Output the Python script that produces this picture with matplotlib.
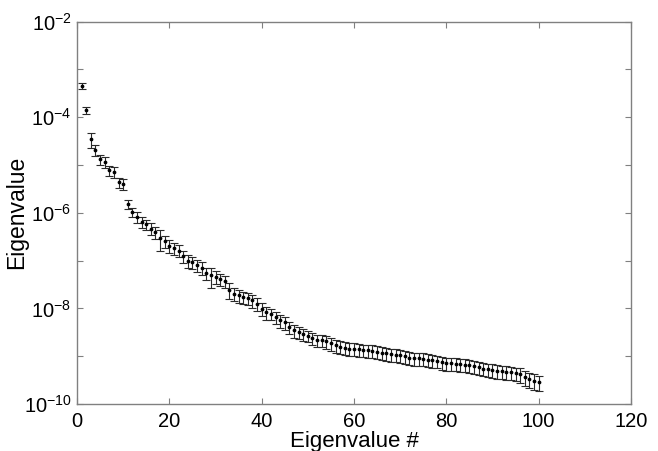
import matplotlib
matplotlib.use('Agg')
from matplotlib import pyplot as plt, ticker
import numpy as np

# Eigenvalue index and log10 of the eigenvalue
index = list(range(1, 101))
log_eig = [
    -3.34, -3.85, -4.46, -4.69, -4.88, -4.94, -5.11, -5.15, -5.36, -5.40,
    -5.82, -5.98, -6.09, -6.19, -6.24, -6.33, -6.41, -6.53, -6.60, -6.69,
    -6.74, -6.79, -6.90, -7.00, -7.04, -7.09, -7.15, -7.26, -7.31, -7.34,
    -7.39, -7.43, -7.61, -7.69, -7.73, -7.76, -7.79, -7.83, -7.90, -8.01,
    -8.08, -8.11, -8.18, -8.25, -8.29, -8.39, -8.46, -8.49, -8.54, -8.57,
    -8.62, -8.66, -8.67, -8.69, -8.73, -8.77, -8.80, -8.82, -8.84, -8.84,
    -8.86, -8.87, -8.88, -8.89, -8.91, -8.93, -8.94, -8.96, -8.97, -8.98,
    -9.00, -9.03, -9.04, -9.04, -9.05, -9.07, -9.09, -9.10, -9.13, -9.15,
    -9.15, -9.16, -9.17, -9.18, -9.19, -9.21, -9.23, -9.26, -9.27, -9.29,
    -9.31, -9.32, -9.33, -9.34, -9.36, -9.38, -9.44, -9.48, -9.51, -9.54,
]
# relative size of the error bars (fraction of the eigenvalue)
rel_err = [
    0.15, 0.18, 0.35, 0.25, 0.25, 0.25, 0.25, 0.25, 0.25, 0.25,
    0.22, 0.22, 0.25, 0.25, 0.25, 0.28, 0.28, 0.45, 0.28, 0.30,
    0.28, 0.28, 0.28, 0.30, 0.28, 0.28, 0.30, 0.30, 0.45, 0.30,
    0.28, 0.28, 0.35, 0.30, 0.30, 0.28, 0.28, 0.30, 0.30, 0.30,
    0.30, 0.28, 0.28, 0.30, 0.30, 0.30, 0.30, 0.28, 0.28, 0.28,
    0.28, 0.28, 0.28, 0.30, 0.30, 0.30, 0.30, 0.30, 0.30, 0.30,
    0.30, 0.30, 0.30, 0.30, 0.30, 0.30, 0.30, 0.30, 0.30, 0.30,
    0.30, 0.30, 0.30, 0.30, 0.30, 0.30, 0.30, 0.30, 0.30, 0.30,
    0.30, 0.30, 0.30, 0.30, 0.30, 0.30, 0.30, 0.30, 0.30, 0.32,
    0.32, 0.32, 0.32, 0.32, 0.32, 0.35, 0.35, 0.35, 0.35, 0.35,
]
y_ticks_exp = [-10, -8, -6, -4, -2]
x_ticks = [0, 20, 40, 60, 80, 100, 120]

plt.rcParams['font.family'] = ['Liberation Sans', 'DejaVu Sans']
plt.rcParams['mathtext.fontset'] = 'custom'
plt.rcParams['mathtext.rm'] = 'Liberation Sans'
plt.rcParams['mathtext.default'] = 'regular'

eig = 10.0 ** np.array(log_eig)
err = eig * np.array(rel_err)

fig = plt.figure(figsize=(6.58, 4.51), dpi=100)
ax = fig.add_axes([77 / 658, 1 - 404 / 451, 554 / 658, 382.5 / 451])

ax.errorbar(index, eig, yerr=err, fmt='o', color='black', ecolor='#2a2a2a',
            markersize=1.7, elinewidth=0.8, capsize=3, capthick=0.8)

ax.set_yscale('log')
ax.set_xlim(0, 120)
ax.set_ylim(1e-10, 1e-2)
ax.set_xticks(x_ticks)
ax.yaxis.set_major_locator(ticker.LogLocator(base=10, numticks=20))
ax.yaxis.set_minor_locator(ticker.NullLocator())
ax.yaxis.set_major_formatter(ticker.FuncFormatter(
    lambda v, pos: r'$10^{%d}$' % round(np.log10(v))
    if round(np.log10(v)) in y_ticks_exp else ''))

for side in ax.spines.values():
    side.set_color('#808080')
    side.set_linewidth(1.0)
ax.tick_params(which='both', direction='in', length=4, width=0.8,
               color='#808080', labelsize=14.5, top=True, right=True)
ax.tick_params(axis='x', pad=6)
ax.tick_params(axis='y', pad=4)

ax.set_xlabel('Eigenvalue #', fontsize=16, labelpad=0)
ax.set_ylabel('Eigenvalue', fontsize=16.5)
ax.yaxis.set_label_coords(-0.088, 0.5)

fig.savefig('out.png', dpi=100)
